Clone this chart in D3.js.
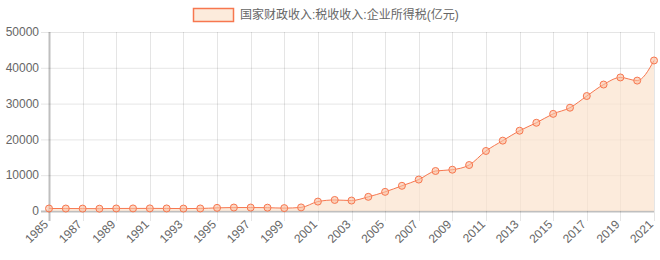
<!DOCTYPE html>
<html>
<head>
<meta charset="utf-8">
<script src="https://cdn.jsdelivr.net/npm/d3@7"></script>
<style>
  body { margin: 0; background: #fff; }
  text { font-family: 'Liberation Sans', Arial, 'Noto Sans CJK SC', sans-serif; }
</style>
</head>
<body>
<div id="chart"></div>
<script>
// 国家财政收入:税收收入:企业所得税(亿元)
const years = d3.range(1985, 2022)
const values = [
  696.06, 689.99, 670.05, 647.03, 710.98, 716.0, 731.09, 712.67, 678.6, 708.49,
  878.44, 968.48, 963.18, 925.54, 811.41, 999.63, 2630.87, 3082.79, 2919.51, 3957.33,
  5343.92, 7039.6, 8779.25, 11175.63, 11536.84, 12843.54, 16769.64, 19654.53, 22427.2, 24642.19,
  27133.87, 28851.36, 32117.29, 35323.71, 37303.77, 36425.81, 42042.38
]
const yTicks = [0, 10000, 20000, 30000, 40000, 50000]
const seriesName = '国家财政收入:税收收入:企业所得税(亿元)'

const width = 660
const height = 260
const margin = { top: 32, right: 6, bottom: 49, left: 49 }

const lineColor = '#f7774f'
const fillColor = 'rgba(251, 226, 205, 0.7)'
const gridColor = 'rgba(0,0,0,0.1)'
const axisColor = 'rgba(0,0,0,0.25)'
const textColor = '#666'

const data = years.map((y, i) => ({ year: y, value: values[i] }))

const svg = d3.select('#chart')
  .append('svg')
  .attr('width', width)
  .attr('height', height)

const x = d3.scaleLinear()
  .domain([1985, 2021])
  .range([margin.left, width - margin.right])

const y = d3.scaleLinear()
  .domain([0, 50000])
  .range([height - margin.bottom, margin.top])

const labelYears = years.filter((d) => (d - 1985) % 2 === 0)

// 网格线
const grid = svg.append('g')
grid.selectAll('line.h')
  .data(yTicks)
  .join('line')
  .attr('class', 'h')
  .attr('x1', margin.left - 8)
  .attr('x2', width - margin.right)
  .attr('y1', (d) => y(d) + 0.5)
  .attr('y2', (d) => y(d) + 0.5)
  .attr('stroke', (d) => (d === 0 ? axisColor : gridColor))
  .attr('stroke-width', (d) => (d === 0 ? 2 : 1))

grid.selectAll('line.v')
  .data(labelYears)
  .join('line')
  .attr('class', 'v')
  .attr('x1', (d) => Math.round(x(d)) + 0.5)
  .attr('x2', (d) => Math.round(x(d)) + 0.5)
  .attr('y1', margin.top)
  .attr('y2', height - margin.bottom + 10)
  .attr('stroke', (d) => (d === 1985 ? axisColor : gridColor))
  .attr('stroke-width', (d) => (d === 1985 ? 2 : 1))

// 面积和折线
const area = d3.area()
  .x((d) => x(d.year))
  .y0(y(0))
  .y1((d) => y(d.value))
  .curve(d3.curveMonotoneX)

const line = d3.line()
  .x((d) => x(d.year))
  .y((d) => y(d.value))
  .curve(d3.curveMonotoneX)

svg.append('path')
  .datum(data)
  .attr('d', area)
  .attr('fill', fillColor)

svg.append('path')
  .datum(data)
  .attr('d', line)
  .attr('fill', 'none')
  .attr('stroke', lineColor)
  .attr('stroke-width', 1)

svg.append('g')
  .selectAll('circle')
  .data(data)
  .join('circle')
  .attr('cx', (d) => x(d.year))
  .attr('cy', (d) => y(d.value))
  .attr('r', 3.5)
  .attr('fill', 'rgba(250, 190, 160, 0.6)')
  .attr('stroke', lineColor)
  .attr('stroke-width', 1)

// y 轴标签
svg.append('g')
  .selectAll('text')
  .data(yTicks)
  .join('text')
  .attr('x', margin.left - 10)
  .attr('y', (d) => y(d))
  .attr('dy', '0.35em')
  .attr('text-anchor', 'end')
  .attr('fill', textColor)
  .style('font-size', '12px')
  .text((d) => d)

// x 轴标签
svg.append('g')
  .selectAll('text')
  .data(labelYears)
  .join('text')
  .attr('transform', (d) => `translate(${x(d) - 3},${height - margin.bottom + 11}) rotate(-45)`)
  .attr('text-anchor', 'end')
  .attr('dy', '0.35em')
  .attr('fill', textColor)
  .style('font-size', '12px')
  .text((d) => d)

// 图例
const legend = svg.append('g').attr('transform', 'translate(193, 8)')
legend.append('rect')
  .attr('x', 0.5)
  .attr('y', 0.5)
  .attr('width', 40)
  .attr('height', 13)
  .attr('fill', 'rgba(251, 226, 205, 0.7)')
  .attr('stroke', lineColor)
  .attr('stroke-width', 1.5)
legend.append('text')
  .attr('x', 47)
  .attr('y', 7)
  .attr('dy', '0.35em')
  .attr('fill', textColor)
  .style('font-size', '12px')
  .text(seriesName)
</script>
</body>
</html>
